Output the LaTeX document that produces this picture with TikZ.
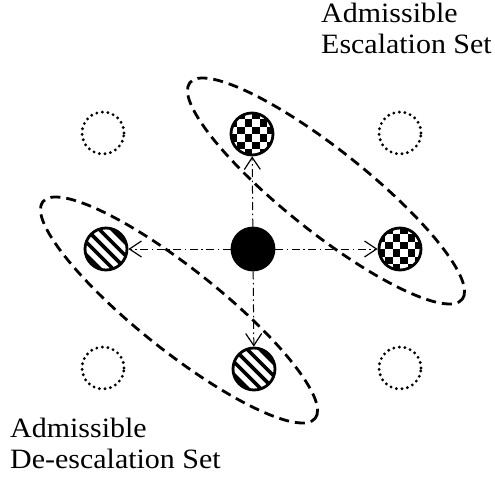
\documentclass[tikz,border=0pt]{standalone}
\usepackage{fontspec}
\setmainfont{Liberation Serif}[FakeStretch=1.07]
\usetikzlibrary{arrows.meta}
\tikzset{
  x=1pt,y=1pt,
  state/.style={circle,draw,line width=2.8pt,minimum size=42pt,inner sep=0pt},
  emptystate/.style={circle,draw,line width=3.2pt,dash pattern=on 0pt off 5.6pt,line cap=round,minimum size=42pt,inner sep=0pt},
  setline/.style={line width=2.8pt,dash pattern=on 10pt off 6pt},
  move/.style={line width=1pt,dash pattern=on 8pt off 3.5pt on 1.5pt off 3.5pt,-{Straight Barb[length=12pt,width=16pt,line width=1.2pt]}},
  checker/.style={path picture={
    \foreach \i in {-3,...,2}{\foreach \j in {-3,...,2}{
      \pgfmathtruncatemacro\chk{mod(\i+\j+10,2)}
      \ifnum\chk=0 \fill ([shift={(\i*7.5pt,\j*7.5pt)}]path picture bounding box.center) rectangle ++(7.5pt,7.5pt);\fi}}}},
  stripes/.style={path picture={
    \begin{scope}[shift={(path picture bounding box.center)}]
    \foreach \k in {-2,...,2}{
      \draw[line width=3.6pt] ({\k*6.4-30},{\k*6.4+30}) -- ({\k*6.4+30},{\k*6.4-30});}
    \end{scope}}},
  lbl/.style={font=\fontsize{28}{31}\selectfont,align=left,inner sep=0pt}
}
\begin{document}
\begin{tikzpicture}
\useasboundingbox (0,0) rectangle (495,-482);
% ellipses
\draw[setline,rotate around={-38.5:(326,-191)}] (326,-191) ellipse [x radius=174pt,y radius=41pt];
\draw[setline,rotate around={-38.5:(179,-310)}] (179,-310) ellipse [x radius=174pt,y radius=41pt];
% states
\node[state,fill=black] (c) at (253,-249) {};
\node[state,checker] (t) at (252,-134) {};
\node[state,checker] (r) at (400,-249) {};
\node[state,stripes] (l) at (106,-249) {};
\node[state,stripes] (b) at (254,-369) {};
\node[emptystate] (tl) at (103,-133) {};
\node[emptystate] (tr) at (400,-133) {};
\node[emptystate] (bl) at (103,-368) {};
\node[emptystate] (br) at (400,-368) {};
% moves
\draw[move] (c) -- (t);
\draw[move] (c) -- (r);
\draw[move] (c) -- (l);
\draw[move] (c) -- (b);
% labels
\node[lbl,anchor=north west] (esc) at (321,-3) {Admissible\\Escalation Set};
\node[lbl,anchor=north west] (desc) at (10,-418) {Admissible\\De-escalation Set};
\end{tikzpicture}
\end{document}
